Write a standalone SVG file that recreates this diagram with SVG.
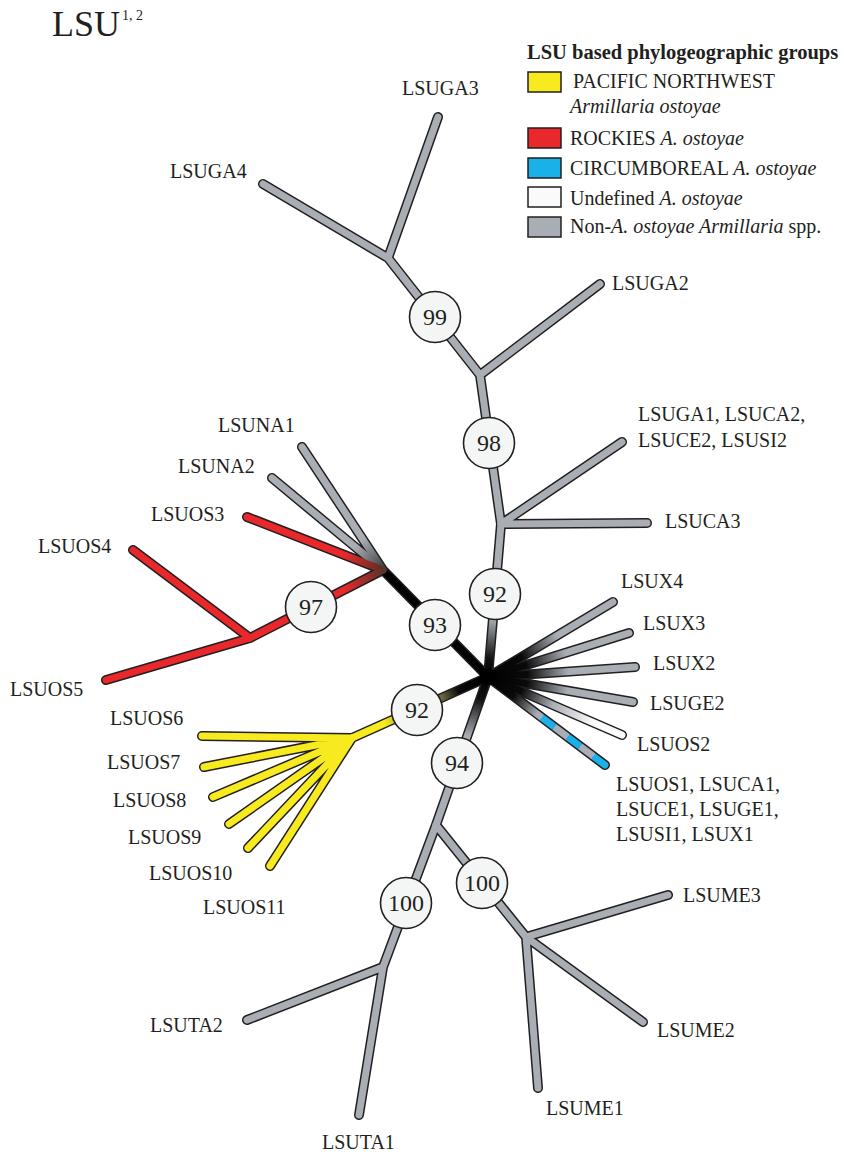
<svg xmlns="http://www.w3.org/2000/svg" width="844" height="1156" viewBox="0 0 844 1156">
<style>
text{font-family:"Liberation Serif","Times New Roman",serif;fill:#231f20}
.lab{font-size:20px}
.bs{font-size:24px;text-anchor:middle}
.it{font-style:italic}
.ol{fill:none;stroke:#231f20;stroke-width:10;stroke-linecap:round;stroke-linejoin:round}
.fl{fill:none;stroke-width:7;stroke-linecap:round;stroke-linejoin:round}
.gy{stroke:#a9aeb5}
.rd{stroke:#e8282b}
.yl{stroke:#f7ea1f}
.bk{stroke:#000}
.sup circle{fill:#f4f6f5;stroke:#231f20;stroke-width:1.6}
.key{stroke:#231f20;stroke-width:1.5}
</style>
<defs>
<linearGradient id="gTop" gradientUnits="userSpaceOnUse" x1="488" y1="677" x2="501" y2="524"><stop offset="0" stop-color="#000"/><stop offset="0.12" stop-color="#111"/><stop offset="0.38" stop-color="#a9aeb5"/><stop offset="1" stop-color="#a9aeb5"/></linearGradient>
<linearGradient id="gBot" gradientUnits="userSpaceOnUse" x1="488" y1="677" x2="436" y2="825"><stop offset="0" stop-color="#000"/><stop offset="0.15" stop-color="#111"/><stop offset="0.4" stop-color="#a9aeb5"/><stop offset="1" stop-color="#a9aeb5"/></linearGradient>
<linearGradient id="gYel" gradientUnits="userSpaceOnUse" x1="488" y1="677" x2="352" y2="738"><stop offset="0" stop-color="#000"/><stop offset="0.22" stop-color="#0a0a0a"/><stop offset="0.36" stop-color="#7d7a4a"/><stop offset="0.68" stop-color="#c8bf30"/><stop offset="0.76" stop-color="#f7ea1f"/><stop offset="1" stop-color="#f7ea1f"/></linearGradient>
<linearGradient id="gNA1" gradientUnits="userSpaceOnUse" x1="383" y1="570" x2="302" y2="447"><stop offset="0" stop-color="#3a3a3c"/><stop offset="0.25" stop-color="#a9aeb5"/><stop offset="1" stop-color="#a9aeb5"/></linearGradient>
<linearGradient id="gNA2" gradientUnits="userSpaceOnUse" x1="383" y1="570" x2="272" y2="478"><stop offset="0" stop-color="#3a3a3c"/><stop offset="0.25" stop-color="#a9aeb5"/><stop offset="1" stop-color="#a9aeb5"/></linearGradient>
<linearGradient id="gOS3" gradientUnits="userSpaceOnUse" x1="383" y1="570" x2="247" y2="517"><stop offset="0" stop-color="#5a2c22"/><stop offset="0.28" stop-color="#e8282b"/><stop offset="1" stop-color="#e8282b"/></linearGradient>
<linearGradient id="g97" gradientUnits="userSpaceOnUse" x1="383" y1="570" x2="250" y2="638"><stop offset="0" stop-color="#5a3428"/><stop offset="0.3" stop-color="#e8282b"/><stop offset="1" stop-color="#e8282b"/></linearGradient>
<linearGradient id="gX4" gradientUnits="userSpaceOnUse" x1="488" y1="677" x2="613" y2="602"><stop offset="0" stop-color="#000"/><stop offset="0.27" stop-color="#0a0a0a"/><stop offset="0.55" stop-color="#a9aeb5"/><stop offset="1" stop-color="#a9aeb5"/></linearGradient>
<linearGradient id="gX3" gradientUnits="userSpaceOnUse" x1="488" y1="677" x2="629" y2="633"><stop offset="0" stop-color="#000"/><stop offset="0.27" stop-color="#0a0a0a"/><stop offset="0.55" stop-color="#a9aeb5"/><stop offset="1" stop-color="#a9aeb5"/></linearGradient>
<linearGradient id="gX2" gradientUnits="userSpaceOnUse" x1="488" y1="677" x2="635" y2="667"><stop offset="0" stop-color="#000"/><stop offset="0.27" stop-color="#0a0a0a"/><stop offset="0.55" stop-color="#a9aeb5"/><stop offset="1" stop-color="#a9aeb5"/></linearGradient>
<linearGradient id="gGE2" gradientUnits="userSpaceOnUse" x1="488" y1="677" x2="633" y2="702"><stop offset="0" stop-color="#000"/><stop offset="0.27" stop-color="#0a0a0a"/><stop offset="0.55" stop-color="#a9aeb5"/><stop offset="1" stop-color="#a9aeb5"/></linearGradient>
<linearGradient id="gOS2" gradientUnits="userSpaceOnUse" x1="488" y1="677" x2="622" y2="735"><stop offset="0" stop-color="#000"/><stop offset="0.25" stop-color="#0a0a0a"/><stop offset="0.48" stop-color="#a9aeb5"/><stop offset="0.78" stop-color="#fafafa"/><stop offset="1" stop-color="#fafafa"/></linearGradient>
<linearGradient id="gOS1" gradientUnits="userSpaceOnUse" x1="488" y1="677" x2="605" y2="765"><stop offset="0" stop-color="#000"/><stop offset="0.22" stop-color="#0a0a0a"/><stop offset="0.42" stop-color="#a9aeb5"/><stop offset="0.46" stop-color="#a9aeb5"/><stop offset="0.46" stop-color="#1ab0e8"/><stop offset="0.57" stop-color="#1ab0e8"/><stop offset="0.57" stop-color="#a9aeb5"/><stop offset="0.68" stop-color="#a9aeb5"/><stop offset="0.68" stop-color="#1ab0e8"/><stop offset="0.79" stop-color="#1ab0e8"/><stop offset="0.79" stop-color="#a9aeb5"/><stop offset="0.9" stop-color="#a9aeb5"/><stop offset="0.9" stop-color="#1ab0e8"/><stop offset="1" stop-color="#1ab0e8"/></linearGradient>
</defs>
<rect width="844" height="1156" fill="#fff"/>
<g id="title"><text x="52" y="36" font-size="36">LSU</text><text x="122" y="20" font-size="14">1, 2</text></g>
<g id="connectors">
<g class="ol">
<path d="M488 677L501 524L647 523M501 524L622 442M501 524L480 375L600 284M480 375L388 258L438 117M388 258L263 184"/>
<path d="M488 677L383 570L302 447M383 570L272 478M383 570L247 517M383 570L250 638L133 550M250 638L106 680"/>
<path d="M488 677L352 738L202 736M352 738L204 767M352 738L213 797M352 738L229 824M352 738L248 848M352 738L270 866"/>
<path d="M488 677L436 825L383 967L247 1020M383 967L359 1115M436 825L526 937L668 895M526 937L643 1022M526 937L538 1088"/>
<path d="M488 677L613 602M488 677L629 633M488 677L635 667M488 677L633 702M488 677L622 735M488 677L605 765"/>
</g>
<path class="fl gy" d="M501 524L647 523M501 524L622 442M501 524L480 375L600 284M480 375L388 258L438 117M388 258L263 184"/>
<path class="fl" stroke="url(#gTop)" d="M488 677L501 524"/>
<path class="fl bk" d="M488 677L383 570"/>
<path class="fl" stroke="url(#gNA1)" d="M383 570L302 447"/>
<path class="fl" stroke="url(#gNA2)" d="M383 570L272 478"/>
<path class="fl" stroke="url(#gOS3)" d="M383 570L247 517"/>
<path class="fl rd" d="M250 638L133 550M250 638L106 680"/>
<path class="fl" stroke="url(#g97)" d="M383 570L250 638"/>
<path class="fl yl" d="M352 738L202 736M352 738L204 767M352 738L213 797M352 738L229 824M352 738L248 848M352 738L270 866"/>
<path class="fl" stroke="url(#gYel)" d="M488 677L352 738"/>
<path class="fl gy" d="M436 825L383 967L247 1020M383 967L359 1115M436 825L526 937L668 895M526 937L643 1022M526 937L538 1088"/>
<path class="fl" stroke="url(#gBot)" d="M488 677L436 825"/>
<path class="fl" stroke="url(#gX4)" d="M488 677L613 602"/>
<path class="fl" stroke="url(#gX3)" d="M488 677L629 633"/>
<path class="fl" stroke="url(#gX2)" d="M488 677L635 667"/>
<path class="fl" stroke="url(#gGE2)" d="M488 677L633 702"/>
<path class="fl" stroke="url(#gOS2)" d="M488 677L622 735"/>
<path class="fl" stroke="url(#gOS1)" d="M488 677L605 765"/>
<circle cx="488" cy="677" r="8" fill="#000"/>
</g>
<g class="sup">
<g id="n99"><circle cx="435" cy="317" r="25.5"/><text class="bs" x="435" y="325">99</text></g>
<g id="n98"><circle cx="489" cy="443" r="25.5"/><text class="bs" x="489" y="451">98</text></g>
<g id="n92a"><circle cx="495" cy="594" r="25.5"/><text class="bs" x="495" y="602">92</text></g>
<g id="n93"><circle cx="435" cy="625" r="25.5"/><text class="bs" x="435" y="633">93</text></g>
<g id="n97"><circle cx="311" cy="607" r="25.5"/><text class="bs" x="311" y="615">97</text></g>
<g id="n92b"><circle cx="417" cy="710" r="25.5"/><text class="bs" x="417" y="718">92</text></g>
<g id="n94"><circle cx="457" cy="763" r="25.5"/><text class="bs" x="457" y="771">94</text></g>
<g id="n100a"><circle cx="406" cy="903" r="25.5"/><text class="bs" x="406" y="911">100</text></g>
<g id="n100b"><circle cx="482" cy="883" r="25.5"/><text class="bs" x="482" y="891">100</text></g>
</g>
<g class="lab">
<g id="lGA3"><text x="402" y="95">LSUGA3</text></g>
<g id="lGA4"><text x="170" y="178">LSUGA4</text></g>
<g id="lGA2"><text x="612" y="290">LSUGA2</text></g>
<g id="lGA1"><text x="638" y="421">LSUGA1, LSUCA2,</text><text x="638" y="447">LSUCE2, LSUSI2</text></g>
<g id="lCA3"><text x="665" y="528">LSUCA3</text></g>
<g id="lNA1"><text x="218" y="432">LSUNA1</text></g>
<g id="lNA2"><text x="178" y="473">LSUNA2</text></g>
<g id="lOS3"><text x="151" y="521">LSUOS3</text></g>
<g id="lOS4"><text x="38" y="553">LSUOS4</text></g>
<g id="lOS5"><text x="10" y="696">LSUOS5</text></g>
<g id="lOS6"><text x="110" y="725">LSUOS6</text></g>
<g id="lOS7"><text x="107" y="769">LSUOS7</text></g>
<g id="lOS8"><text x="113" y="807">LSUOS8</text></g>
<g id="lOS9"><text x="128" y="844">LSUOS9</text></g>
<g id="lOS10"><text x="149" y="880">LSUOS10</text></g>
<g id="lOS11"><text x="203" y="914">LSUOS11</text></g>
<g id="lTA2"><text x="150" y="1032">LSUTA2</text></g>
<g id="lTA1"><text x="322" y="1149">LSUTA1</text></g>
<g id="lME1"><text x="546" y="1115">LSUME1</text></g>
<g id="lME2"><text x="657" y="1037">LSUME2</text></g>
<g id="lME3"><text x="683" y="902">LSUME3</text></g>
<g id="lX4"><text x="621" y="588">LSUX4</text></g>
<g id="lX3"><text x="643" y="630">LSUX3</text></g>
<g id="lX2"><text x="653" y="670">LSUX2</text></g>
<g id="lGE2"><text x="650" y="710">LSUGE2</text></g>
<g id="lOS2"><text x="637" y="751">LSUOS2</text></g>
<g id="lOS1"><text x="616" y="791">LSUOS1, LSUCA1,</text><text x="616" y="816">LSUCE1, LSUGE1,</text><text x="616" y="841">LSUSI1, LSUX1</text></g>
</g>
<g id="legend" class="lab">
<text x="527" y="59" font-weight="bold" font-size="20.5">LSU based phylogeographic groups</text>
<rect class="key" x="528" y="72" width="33" height="20" fill="#f7ea1f"/>
<text x="573" y="88">PACIFIC NORTHWEST</text>
<text x="570" y="113" class="it">Armillaria ostoyae</text>
<rect class="key" x="528" y="128" width="33" height="20" fill="#e8282b"/>
<text x="570" y="145">ROCKIES <tspan class="it">A. ostoyae</tspan></text>
<rect class="key" x="528" y="158" width="33" height="20" fill="#1ab0e8"/>
<text x="570" y="175">CIRCUMBOREAL <tspan class="it">A. ostoyae</tspan></text>
<rect class="key" x="528" y="187" width="33" height="20" fill="#fafafa"/>
<text x="570" y="205">Undefined <tspan class="it">A. ostoyae</tspan></text>
<rect class="key" x="528" y="217" width="33" height="20" fill="#a9aeb5"/>
<text x="570" y="233">Non-<tspan class="it">A. ostoyae Armillaria</tspan> spp.</text>
</g>
</svg>
